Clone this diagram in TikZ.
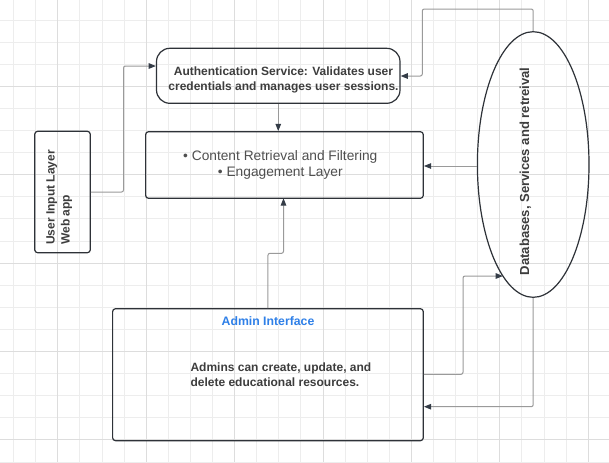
\documentclass[tikz,border=0pt]{standalone}
\usepackage{fontspec}
\setmainfont{Liberation Sans}
\usetikzlibrary{arrows.meta,shapes.geometric}
\definecolor{gridminor}{HTML}{EDEDED}
\definecolor{gridmajor}{HTML}{DDDDDD}
\definecolor{border}{HTML}{2E3238}
\definecolor{connc}{HTML}{9A9A9A}
\definecolor{arrowc}{HTML}{343C47}
\definecolor{textdark}{HTML}{3D3D3D}
\definecolor{textgray}{HTML}{4F4F4F}
\definecolor{adminblue}{HTML}{2F80E8}
\begin{document}
\begin{tikzpicture}[x=0.75pt,y=-0.75pt,
  boxshape/.style={draw=border, line width=0.9pt, rounded corners=2.2pt, inner sep=0pt, rectangle},
  conn/.style={draw=connc, line width=0.75pt, rounded corners=1.5pt, -{Triangle[length=5.5pt,width=4.2pt,color=arrowc]}},
  boldtxt/.style={font=\bfseries\fontsize{9}{11.25}\selectfont, text=textdark, inner sep=0pt},
]
\fill[white] (0,0) rectangle (609,462);
\useasboundingbox (0,0) rectangle (609,462);
% grid
\foreach \k in {0,...,26} \draw[gridminor,line width=0.75pt] ({13.6+22.1*\k},0) -- ({13.6+22.1*\k},462);
\foreach \k in {0,...,20} \draw[gridminor,line width=0.75pt] (0,{20+22.1*\k}) -- (609,{20+22.1*\k});
\foreach \k in {2,6,...,26} \draw[gridmajor,line width=0.75pt] ({13.6+22.1*\k},0) -- ({13.6+22.1*\k},462);
\foreach \k in {3,7,...,19} \draw[gridmajor,line width=0.75pt] (0,{20+22.1*\k}) -- (609,{20+22.1*\k});

% shapes
\node[boxshape, rounded corners=10pt, minimum width=243.5*0.75pt, minimum height=55*0.75pt] (auth) at (278.25,75.8) {};
\node[boxshape, minimum width=277.7*0.75pt, minimum height=66.6*0.75pt] (content) at (284.45,165) {};
\node[boxshape, minimum width=55.6*0.75pt, minimum height=121.4*0.75pt] (user) at (62.5,192) {};
\node[boxshape, minimum width=310.7*0.75pt, minimum height=132*0.75pt] (admin) at (267.95,374.7) {};
\node[draw=border, line width=0.9pt, ellipse, inner sep=0pt, minimum width=111.6*0.75pt, minimum height=265.6*0.75pt] (db) at (533.2,164.5) {};

% texts
\node[boldtxt, align=center] (authtxt) at (283.5,80.2) {Authentication Service: Validates user\\credentials and manages user sessions.};
\node[font=\fontsize{10.3}{12.5}\selectfont, text=textgray, align=center, inner sep=0pt] (contenttxt) at (280.3,165) {• Content Retrieval and Filtering\\• Engagement Layer};
\node[boldtxt, align=left, anchor=west, rotate=90] (usertxt) at (59.2,245) {User Input Layer\\Web app};
\node[boldtxt, font=\bfseries\fontsize{9.8}{12}\selectfont, rotate=90] (dbtxt) at (525.3,171.3) {Databases, Services and retreival};
\node[boldtxt, font=\bfseries\fontsize{9.2}{11}\selectfont, text=adminblue] (admintitle) at (268,320.7) {Admin Interface};
\node[boldtxt, align=left, anchor=west] (admintxt) at (190.3,374.8) {Admins can create, update, and\\delete educational resources.};

% connectors
\coordinate (dbin) at (502.9,276);
\draw[conn] (user.east) -| (123.5,66) -- (auth.west |- 0,66);
\draw[conn] (auth.south) -- (auth.south |- content.north);
\draw[conn] (db.north) |- (422.3,9) |- (auth.east |- 0,76);
\draw[conn] (db.west |- 0,166) -- (content.east |- 0,166);
\draw[conn] (admin.north) |- (283.5,253.3) -- (283.5,198.3);
\draw[conn] (admin.east |- 0,374.3) -| (463,276) -- (dbin);
\draw[conn] (db.south) |- (admin.east |- 0,406.7);
\end{tikzpicture}
\end{document}
